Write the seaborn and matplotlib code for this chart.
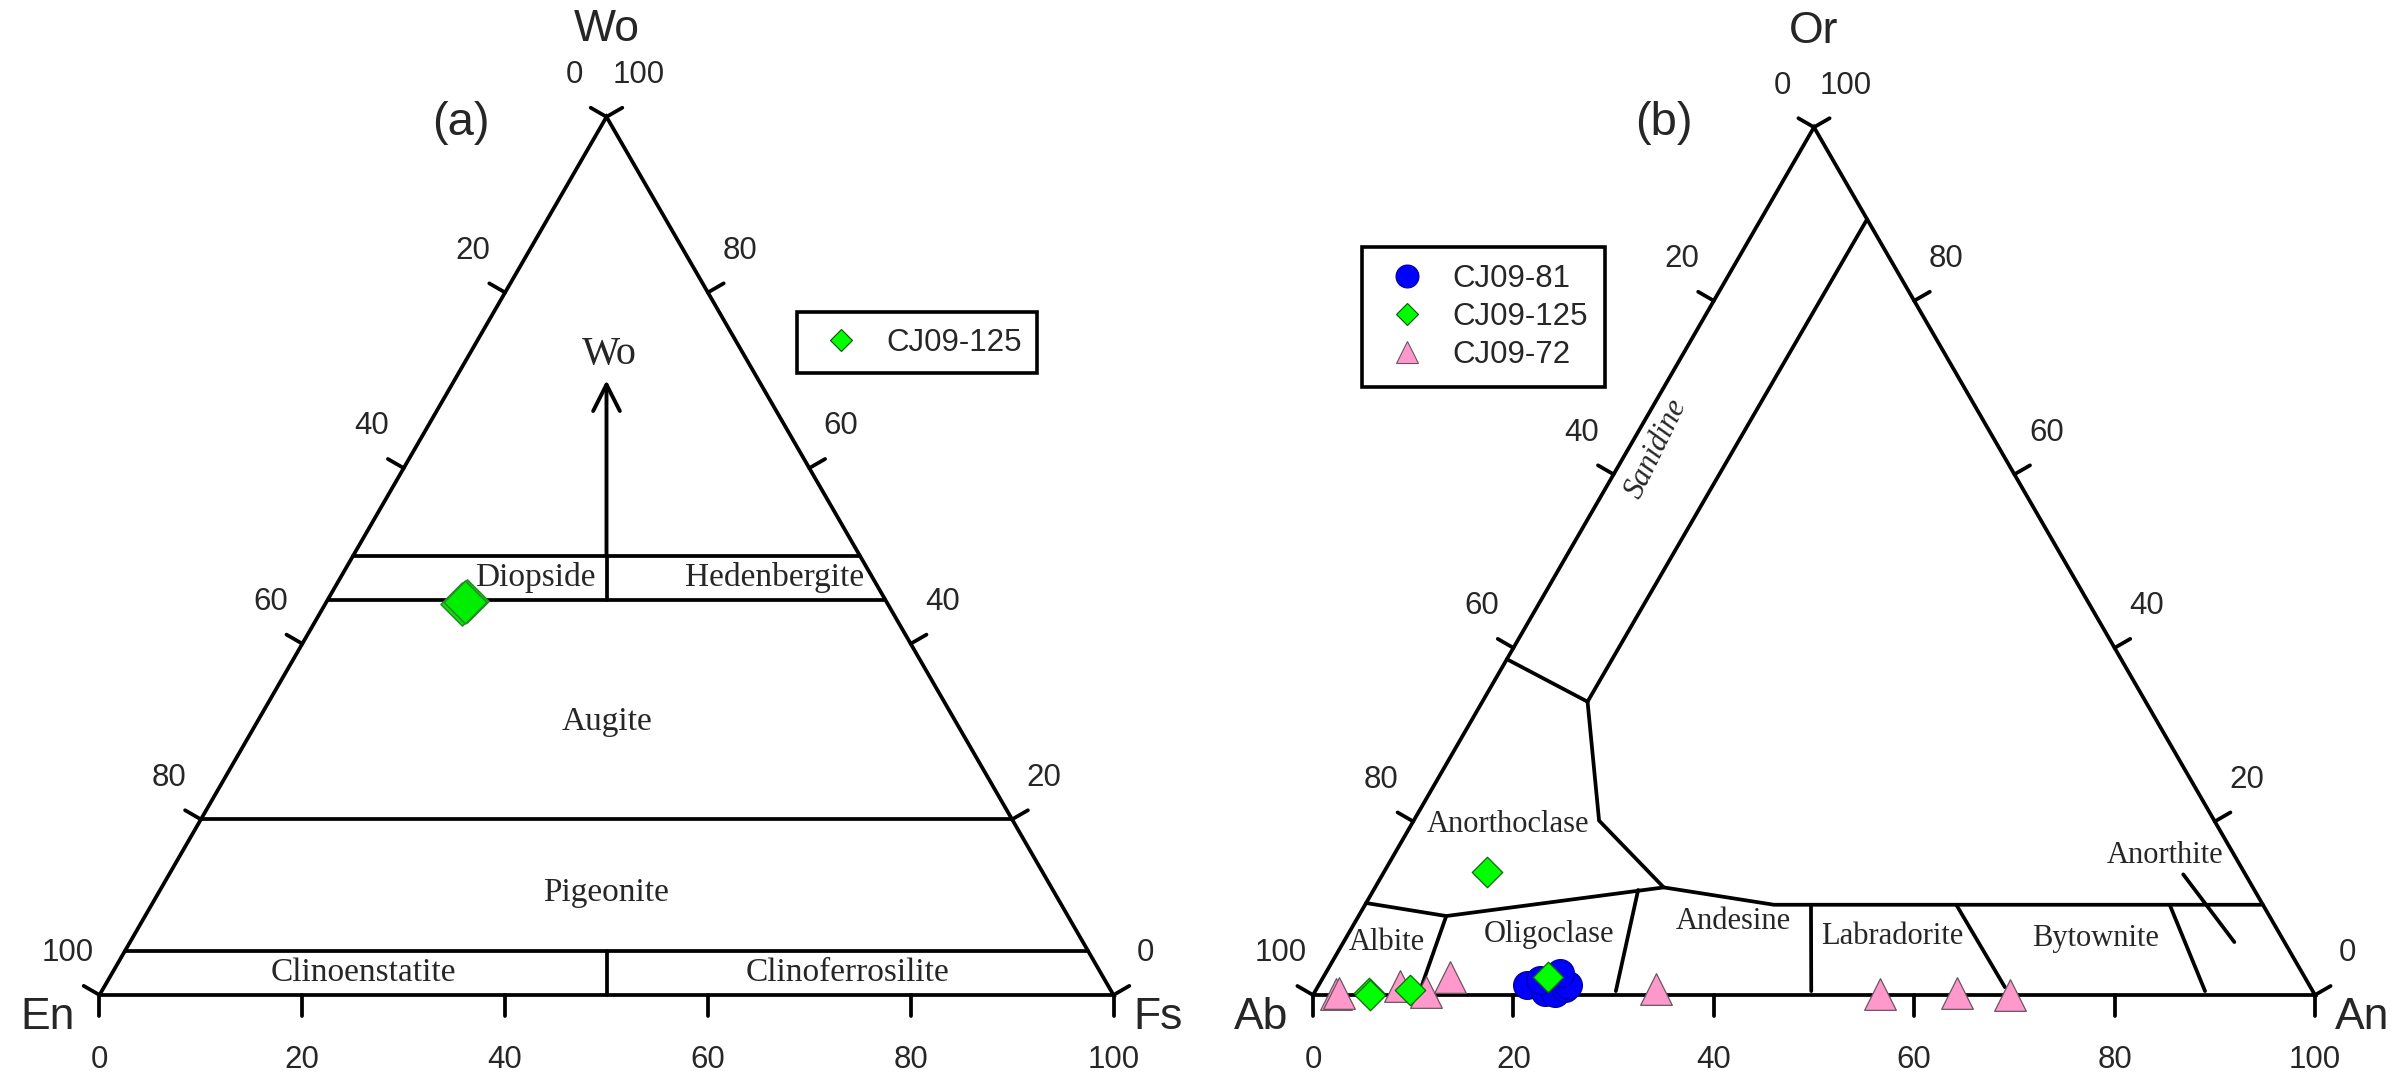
import numpy as np
import pandas as pd
import matplotlib
matplotlib.use("Agg")
import matplotlib.pyplot as plt
import seaborn as sns
from matplotlib.lines import Line2D

sns.set_theme(style="white")
plt.rcParams["font.family"] = ["Liberation Sans", "DejaVu Sans"]

H = np.sqrt(3) / 2
LW = 2.7

# ---------------- (a) pyroxene: En - Fs - Wo (%)
pyx_fs = [13.5, 13.8, 13.65]
pyx_wo = [44.5, 44.9, 44.7]
pyx_levels = [50, 45, 20, 5]                       # horizontal field boundaries (Wo %)
pyx_dividers = [[(27.5, 45), (25, 50)], [(50, 0), (47.5, 5)]]   # (Fs, Wo)
pyx_arrow = [(25, 50), (15, 70)]
pyx_fields = ["Diopside", "Hedenbergite", "Augite", "Pigeonite",
              "Clinoenstatite", "Clinoferrosilite"]
pyx_field_pos = [(43.0, 41.2), (66.6, 41.2), (50, 26.9), (50, 10.1),
                 (26.0, 2.2), (73.8, 2.2)]         # cartesian (0-100 scale)

# ---------------- (b) feldspar: Ab - An - Or (%)
fsp81_an = [20.8, 22.96, 24.05, 24.76, 24.9, 23.4, 21.8]
fsp81_or = [1.15, 0.38, 0.2, 0.77, 1.15, 2.5, 1.73]
fsp125_an = [5.5, 5.7, 9.4, 22.4, 10.3]
fsp125_or = [0.2, 0.0, 0.58, 2.1, 14.2]
fsp72_an = [2.2, 2.5, 8.1, 11.1, 12.65, 33.85, 56.55, 64.2, 69.6]
fsp72_or = [0.17, 0.2, 1.07, 0.38, 2.03, 0.7, 0.1, 0.2, 0.0]

# field boundaries as (An, Or)
fsp_lines = [
    [(0, 38.7), (10.5, 33.8)],
    [(10.5, 33.8), (10.6, 89.4)],
    [(10.5, 33.8), (18.5, 20.1), (28.8, 12.4)],
    [(0, 10.6), (8.75, 9.1), (28.8, 12.4), (40.8, 10.4), (89.6, 10.4)],
    [(8.75, 9.1), (10.3, 1.15)],
    [(26.4, 12.1), (30.0, 0.45)],
    [(44.5, 10.4), (49.5, 0.45)],
    [(59.0, 10.4), (68.6, 0.9)],
    [(80.3, 10.4), (88.8, 0.45)],
    [(79.9, 13.9), (88.9, 6.1)],
]
fsp_fields = ["Albite", "Oligoclase", "Anorthoclase", "Andesine",
              "Labradorite", "Bytownite", "Anorthite"]
fsp_field_pos = [(7.4, 5.2), (23.6, 6.0), (19.5, 17.0), (41.9, 7.3),
                 (57.8, 5.8), (78.1, 5.6), (85.0, 13.9)]

tick_vals = [0, 20, 40, 60, 80, 100]


def cart(b, t):
    """b = right-corner component, t = top component -> x, y"""
    b = np.asarray(b, float)
    t = np.asarray(t, float)
    return b + t / 2, t * H


fig = plt.figure(figsize=(24.03, 10.87), dpi=100)
FW, FH = 2403, 1087


def make_ax(x0, x_origin, y_origin, k):
    # axes covering half the figure, scaled so that 1 unit = k px
    ax = fig.add_axes([x0 / FW, 0, 0.5, 1])
    w = FW / 2
    ax.set_xlim(-(x_origin - x0) / k, (x0 + w - x_origin) / k)
    ax.set_ylim(-(FH - y_origin) / k, y_origin / k)
    ax.set_axis_off()
    return ax


def frame(ax, corners, top_off):
    ax.plot([0, 100, 50, 0], [0, 0, 100 * H, 0], color="black", lw=LW,
            solid_joinstyle="miter", zorder=2)
    ls, lb = 1.8, 2.1
    for v in tick_vals:
        # left side: 0 at apex, 100 at bottom-left
        x, y = 50 - v / 2, H * (100 - v)
        ax.plot([x, x - 0.866 * ls], [y, y + 0.5 * ls], color="black", lw=LW)
        ax.annotate(str(v), (x, y), xytext=(-23, 30), textcoords="offset points",
                    ha="center", va="center", fontsize=22.5)
        # right side: 100 at apex, 0 at bottom-right
        x, y = 100 - v / 2, H * v
        ax.plot([x, x + 0.866 * ls], [y, y + 0.5 * ls], color="black", lw=LW)
        ax.annotate(str(v), (x, y), xytext=(23, 30), textcoords="offset points",
                    ha="center", va="center", fontsize=22.5)
        # bottom
        ax.plot([v, v], [0, -lb], color="black", lw=LW)
        ax.annotate(str(v), (v, 0), xytext=(0, -47), textcoords="offset points",
                    ha="center", va="center", fontsize=22.5)
    l, r, t = corners
    ax.annotate(l, (0, 0), xytext=(-18, -16), textcoords="offset points",
                ha="right", va="center", fontsize=32)
    ax.annotate(r, (100, 0), xytext=(14, -16), textcoords="offset points",
                ha="left", va="center", fontsize=32)
    ax.annotate(t, (50, 100 * H), xytext=(0, top_off), textcoords="offset points",
                ha="center", va="center", fontsize=32)


serif = ["Liberation Serif", "DejaVu Serif"]

# ---------------- panel (a)
axA = make_ax(0, 99.5, 995, 10.14)
frame(axA, ("En", "Fs", "Wo"), 63)
for w in pyx_levels:
    x, y = cart([0, 100 - w], [w, w])
    axA.plot(x, y, color="black", lw=LW, zorder=2)
for seg in pyx_dividers:
    x, y = cart([p[0] for p in seg], [p[1] for p in seg])
    axA.plot(x, y, color="black", lw=LW, zorder=2)
ax0, ay0 = cart([pyx_arrow[0][0]], [pyx_arrow[0][1]])
ax1, ay1 = cart([pyx_arrow[1][0]], [pyx_arrow[1][1]])
axA.annotate("", xy=(ax1[0], ay1[0]), xytext=(ax0[0], ay0[0]),
             arrowprops=dict(arrowstyle="->,head_length=0.95,head_width=0.48",
                             mutation_scale=20, lw=2.8, color="black",
                             shrinkA=0, shrinkB=0))
axA.text(ax1[0] + 0.3, ay1[0] + 2.5, "Wo", family=serif, fontsize=29,
         ha="center", va="center")
for name, (x, y) in zip(pyx_fields, pyx_field_pos):
    axA.text(x, y, name, family=serif, fontsize=24, ha="center", va="center")
axA.text(35.6, 86.0, "(a)", fontsize=34, ha="center", va="center")

dfA = pd.DataFrame({"Fs": pyx_fs, "Wo": pyx_wo})
dfA["x"], dfA["y"] = cart(dfA["Fs"], dfA["Wo"])
sns.scatterplot(data=dfA, x="x", y="y", ax=axA, marker="D", s=480,
                color="#00ee00", edgecolor="#2a8a2a", linewidth=1.2,
                legend=False, zorder=4)
axA.set_xlabel("")
axA.set_ylabel("")
axA.set_axis_off()

hA = [Line2D([], [], marker="D", ls="none", markersize=11.5,
             markerfacecolor="#00ff00", markeredgecolor="#005500", markeredgewidth=0.8)]
legA = axA.legend(hA, ["CJ09-125"], loc="upper left", bbox_to_anchor=(797 / FW, 1 - 312 / FH),
                  bbox_transform=fig.transFigure, borderaxespad=0, fontsize=22.5,
                  frameon=True, fancybox=False, edgecolor="black", framealpha=1,
                  borderpad=0.5, handlelength=1.8, handletextpad=0.55)
legA.get_frame().set_linewidth(2.6)

# ---------------- panel (b)
axB = make_ax(FW / 2, 1313, 995, 10.02)
frame(axB, ("Ab", "An", "Or"), 69)
for line in fsp_lines:
    x, y = cart([p[0] for p in line], [p[1] for p in line])
    axB.plot(x, y, color="black", lw=LW, zorder=2, solid_joinstyle="miter")
for name, (x, y) in zip(fsp_fields, fsp_field_pos):
    axB.text(x, y, name, family=serif, fontsize=22, ha="center", va="center")
axB.text(34.3, 54.5, "Sanidine", family=serif, fontsize=22, ha="center",
         va="center", rotation=64, style="italic")
axB.text(35.0, 87.0, "(b)", fontsize=34, ha="center", va="center")

groups = [
    ("CJ09-81", fsp81_an, fsp81_or, "o", 400, "#0000ff", "#0000a0"),
    ("CJ09-72", fsp72_an, fsp72_or, "^", 520, "#ff99cc", "#6a5560"),
    ("CJ09-125", fsp125_an, fsp125_or, "D", 240, "#00ff00", "#007000"),
]
for name, an, orr, mk, s, fc, ec in groups:
    d = pd.DataFrame({"An": an, "Or": orr})
    d["x"], d["y"] = cart(d["An"], d["Or"])
    sns.scatterplot(data=d, x="x", y="y", ax=axB, marker=mk, s=s, color=fc,
                    edgecolor=ec, linewidth=0.9, legend=False, zorder=4)
axB.set_xlabel("")
axB.set_ylabel("")
axB.set_axis_off()

hB = [
    Line2D([], [], marker="o", ls="none", markersize=16.5,
           markerfacecolor="#0000ff", markeredgecolor="#0000a0", markeredgewidth=0.8),
    Line2D([], [], marker="D", ls="none", markersize=11.5,
           markerfacecolor="#00ff00", markeredgecolor="#005500", markeredgewidth=0.8),
    Line2D([], [], marker="^", ls="none", markersize=16,
           markerfacecolor="#ff99cc", markeredgecolor="#6a5560", markeredgewidth=0.8),
]
legB = axB.legend(hB, ["CJ09-81", "CJ09-125", "CJ09-72"], loc="upper left",
                  bbox_to_anchor=(1362 / FW, 1 - 247 / FH), bbox_transform=fig.transFigure,
                  borderaxespad=0, fontsize=22.5, frameon=True, fancybox=False,
                  edgecolor="black", framealpha=1, borderpad=0.55, handlelength=1.8,
                  handletextpad=0.55, labelspacing=0.25)
legB.get_frame().set_linewidth(2.6)

fig.savefig("out.png", dpi=100, facecolor="white")
